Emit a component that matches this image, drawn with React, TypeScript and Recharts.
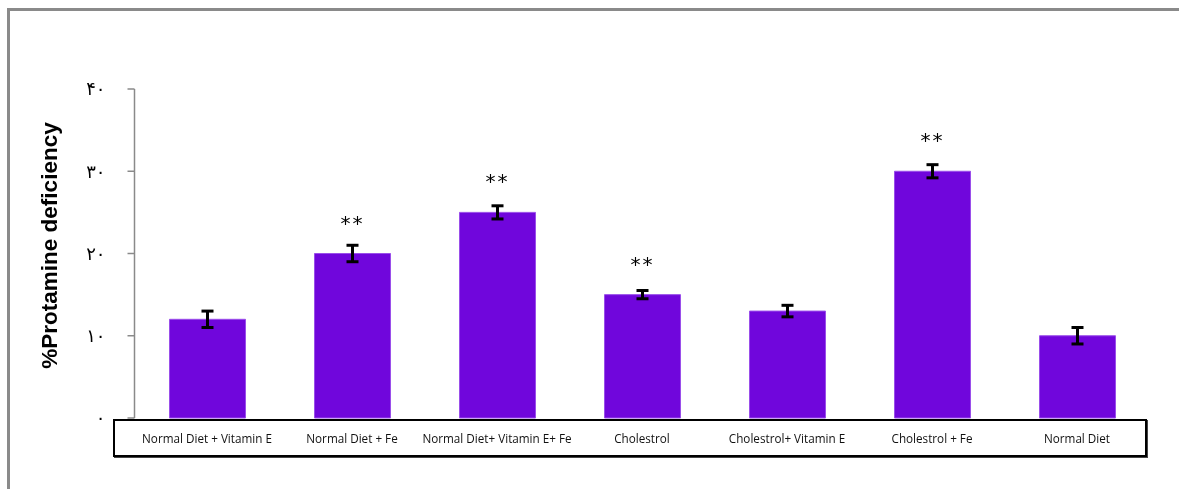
import React from "react";
import { BarChart, Bar, XAxis, YAxis, ErrorBar, LabelList } from "recharts";

const categories = [
  "Normal Diet + Vitamin E",
  "Normal Diet + Fe",
  "Normal Diet+ Vitamin E+ Fe",
  "Cholestrol",
  "Cholestrol+ Vitamin E",
  "Cholestrol + Fe",
  "Normal Diet",
];
const values = [12, 20, 25, 15, 13, 30, 10];
const errors = [1.0, 1.0, 0.8, 0.5, 0.7, 0.8, 1.0];
const significance = ["", "**", "**", "**", "", "**", ""];
const yTicks = [0, 10, 20, 30, 40];
const yTickLabels = ["۰", "۱۰", "۲۰", "۳۰", "۴۰"];

const data = categories.map((name, i) => ({
  name,
  value: values[i],
  err: errors[i],
  sig: significance[i],
}));

const YLabel = (props: any) => {
  const vb = props.viewBox || {};
  const cx = vb.x - 25;
  const cy = vb.y + vb.height / 2 - 8;
  return (
    <text
      x={cx}
      y={cy}
      transform={`rotate(-90 ${cx} ${cy})`}
      textAnchor="middle"
      dominantBaseline="central"
      fontFamily="Liberation Sans, Arial, sans-serif"
      fontWeight="bold"
      fontSize={22.5}
      fill="#000"
    >
      %Protamine deficiency
    </text>
  );
};

const SigLabel = (props: any) => {
  const { x, y, width, value } = props;
  if (!value) return null;
  return (
    <text
      x={x + width / 2}
      y={y - 31}
      textAnchor="middle"
      dominantBaseline="central"
      fontFamily="DejaVu Sans, sans-serif"
      fontSize={20}
      letterSpacing={2}
      fill="#000"
    >
      {value}
    </text>
  );
};

export default function App() {
  return (
    <div style={{ position: "relative", width: 1163, height: 473 }}>
      <div style={{ position: "fixed", left: 7, top: 8, width: 1172, height: 3, background: "#8a8a8a" }} />
      <div style={{ position: "fixed", left: 7, top: 8, width: 3, height: 481, background: "#8a8a8a" }} />
      <div
        style={{
          position: "absolute",
          left: 105,
          top: 411,
          width: 1034,
          height: 38,
          border: "2px solid #000",
          boxShadow: "1px 1px 0 #444",
          boxSizing: "border-box",
          pointerEvents: "none",
        }}
      />
      <BarChart
        width={1163}
        height={473}
        data={data}
        margin={{ top: 81, right: 21.5, bottom: 13, left: 66.5 }}
        barCategoryGap={0}
      >
        <XAxis
          dataKey="name"
          axisLine={false}
          tickLine={false}
          interval={0}
          height={50}
          tickMargin={11}
          tick={{ fontFamily: "Open Sans, sans-serif", fontSize: 11.7, fill: "#111" }}
        />
        <YAxis
          domain={[0, 40]}
          ticks={yTicks}
          width={60}
          tickSize={7}
          tickMargin={22}
          axisLine={{ stroke: "#8a8a8a", strokeWidth: 1.5 }}
          tickLine={{ stroke: "#8a8a8a", strokeWidth: 1.5 }}
          tickFormatter={(v: number) => yTickLabels[yTicks.indexOf(v)]}
          tick={{ fontFamily: "DejaVu Sans, sans-serif", fontSize: 18, fill: "#000" }}
          label={<YLabel />}
        />
        <Bar
          dataKey="value"
          fill="#7006DC"
          stroke="#9a4eea"
          strokeWidth={1}
          barSize={76}
          isAnimationActive={false}
        >
          <ErrorBar dataKey="err" width={6} strokeWidth={3} stroke="#000" direction="y" />
          <LabelList dataKey="sig" content={<SigLabel />} />
        </Bar>
      </BarChart>
    </div>
  );
}
